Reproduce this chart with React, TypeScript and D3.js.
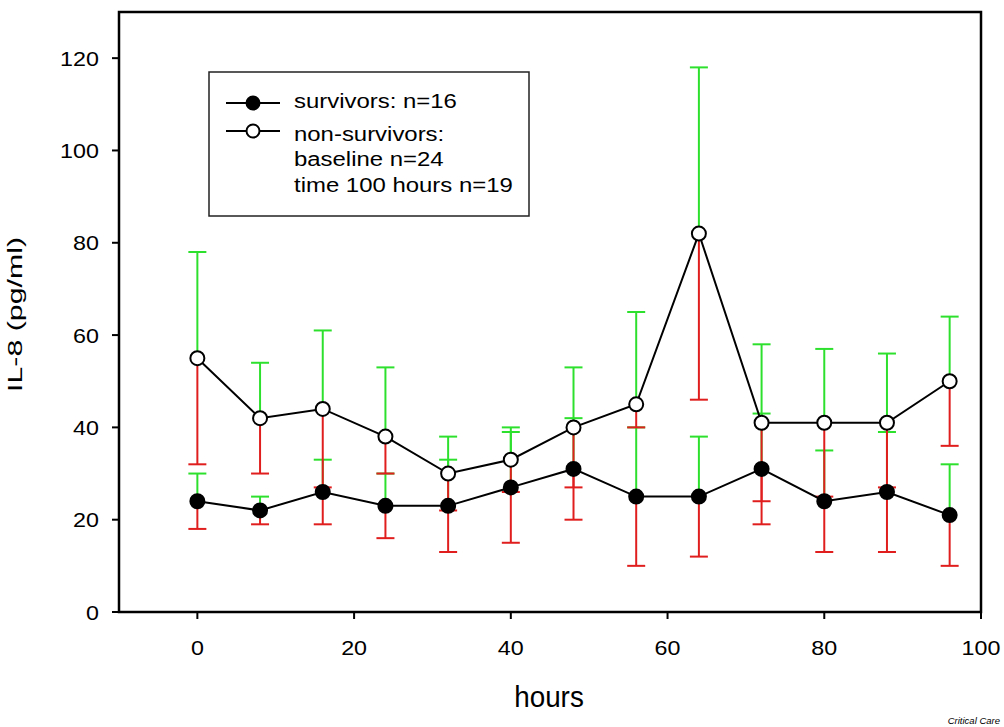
import React from "react";
import * as d3 from "d3";

const hours = [0, 8, 16, 24, 32, 40, 48, 56, 64, 72, 80, 88, 96];
const survivors = [24, 22, 26, 23, 23, 27, 31, 25, 25, 31, 24, 26, 21];
const survivorsUpper = [30, 25, 33, 30, 33, 39, 42, 40, 38, 43, 35, 39, 32];
const survivorsLower = [18, 19, 19, 16, 13, 15, 20, 10, 12, 19, 13, 13, 10];
const nonSurvivors = [55, 42, 44, 38, 30, 33, 40, 45, 82, 41, 41, 41, 50];
const nonSurvivorsUpper = [78, 54, 61, 53, 38, 40, 53, 65, 118, 58, 57, 56, 64];
const nonSurvivorsLower = [32, 30, 27, 30, 22, 26, 27, 40, 46, 24, 25, 27, 36];
const xTicks = [0, 20, 40, 60, 80, 100];
const yTicks = [0, 20, 40, 60, 80, 100, 120];
const legendLines = ["survivors: n=16", "non-survivors:", "baseline n=24", "time 100 hours n=19"];

const W = 1004;
const H = 727;
const M = { left: 119, right: 981, top: 12, bottom: 612 };
const FONT = "'Liberation Sans', Arial, sans-serif";
const GREEN = "#2ee02e";
const RED = "#e01e1e";

function SText(props: {
  x: number;
  y: number;
  sx: number;
  size: number;
  anchor?: string;
  children: React.ReactNode;
  italic?: boolean;
}) {
  return (
    <g transform={`translate(${props.x},${props.y}) scale(${props.sx},1)`}>
      <text
        x={0}
        y={0}
        fontSize={props.size}
        textAnchor={props.anchor || "start"}
        fontStyle={props.italic ? "italic" : "normal"}
        fill="#000"
      >
        {props.children}
      </text>
    </g>
  );
}

export default function App() {
  const x = d3.scaleLinear().domain([-10, 100]).range([M.left, M.right]);
  const y = d3.scaleLinear().domain([0, 130]).range([M.bottom, M.top]);
  const line = d3
    .line<number>()
    .x((_, i) => x(hours[i]))
    .y((d) => y(d));
  const cap = 9;
  const series = [
    { vals: survivors, up: survivorsUpper, lo: survivorsLower, fill: "#000" },
    { vals: nonSurvivors, up: nonSurvivorsUpper, lo: nonSurvivorsLower, fill: "#fff" },
  ];

  const errBar = (xv: number, from: number, to: number, color: string, key: string) => (
    <g key={key} stroke={color} strokeWidth={2}>
      <line x1={x(xv)} x2={x(xv)} y1={y(from)} y2={y(to)} />
      <line x1={x(xv) - cap} x2={x(xv) + cap} y1={y(to)} y2={y(to)} />
    </g>
  );

  const legendBaselines = [108, 141, 166, 192];

  return (
    <svg
      width={W}
      height={H}
      style={{ position: "absolute", left: 0, top: 0, background: "#fff" }}
      fontFamily={FONT}
    >
      <rect x={0} y={0} width={W} height={H} fill="#fff" />
      {/* error bars */}
      {series.map((s, si) =>
        hours.map((h, i) => (
          <g key={`e${si}-${i}`}>
            {errBar(h, s.vals[i], s.lo[i], RED, `lo${si}-${i}`)}
            {errBar(h, s.vals[i], s.up[i], GREEN, `up${si}-${i}`)}
          </g>
        ))
      )}
      {/* lines */}
      {series.map((s, si) => (
        <path key={`l${si}`} d={line(s.vals) || ""} fill="none" stroke="#000" strokeWidth={2} />
      ))}
      {/* markers */}
      {series.map((s, si) =>
        s.vals.map((v, i) => (
          <circle
            key={`m${si}-${i}`}
            cx={x(hours[i])}
            cy={y(v)}
            r={7}
            fill={s.fill}
            stroke="#000"
            strokeWidth={2}
          />
        ))
      )}
      {/* frame */}
      <rect
        x={M.left}
        y={M.top}
        width={M.right - M.left}
        height={M.bottom - M.top}
        fill="none"
        stroke="#000"
        strokeWidth={2.5}
      />
      {/* y ticks */}
      {yTicks.map((t) => (
        <g key={`yt${t}`}>
          <line x1={M.left - 7} x2={M.left} y1={y(t)} y2={y(t)} stroke="#000" strokeWidth={2} />
          <SText x={M.left - 20} y={y(t) + 7.5} sx={1.11} size={21} anchor="end">
            {t}
          </SText>
        </g>
      ))}
      {/* x ticks */}
      {xTicks.map((t) => (
        <g key={`xt${t}`}>
          <line x1={x(t)} x2={x(t)} y1={M.bottom} y2={M.bottom + 7} stroke="#000" strokeWidth={2} />
          <SText x={x(t)} y={655} sx={1.11} size={21} anchor="middle">
            {t}
          </SText>
        </g>
      ))}
      {/* axis titles */}
      <SText x={549} y={707} sx={0.96} size={29} anchor="middle">
        hours
      </SText>
      <text
        transform={`translate(22, 314.5) rotate(-90)`}
        textAnchor="middle"
        fontSize={21}
        textLength={155}
        lengthAdjust="spacingAndGlyphs"
      >
        IL-8 (pg/ml)
      </text>
      {/* legend */}
      <rect x={209} y={72} width={320} height={144} fill="#fff" stroke="#222" strokeWidth={1.5} />
      <line x1={226} x2={280} y1={103} y2={103} stroke="#000" strokeWidth={2} />
      <circle cx={253} cy={103} r={6.5} fill="#000" stroke="#000" strokeWidth={2} />
      <line x1={226} x2={280} y1={131} y2={131} stroke="#000" strokeWidth={2} />
      <circle cx={253} cy={131} r={6.5} fill="#fff" stroke="#000" strokeWidth={2} />
      {legendLines.map((t, i) => (
        <SText key={`lg${i}`} x={294} y={legendBaselines[i]} sx={1.14} size={21}>
          {t}
        </SText>
      ))}
      <SText x={1000} y={724} sx={1} size={9.5} anchor="end" italic>
        Critical Care
      </SText>
    </svg>
  );
}
